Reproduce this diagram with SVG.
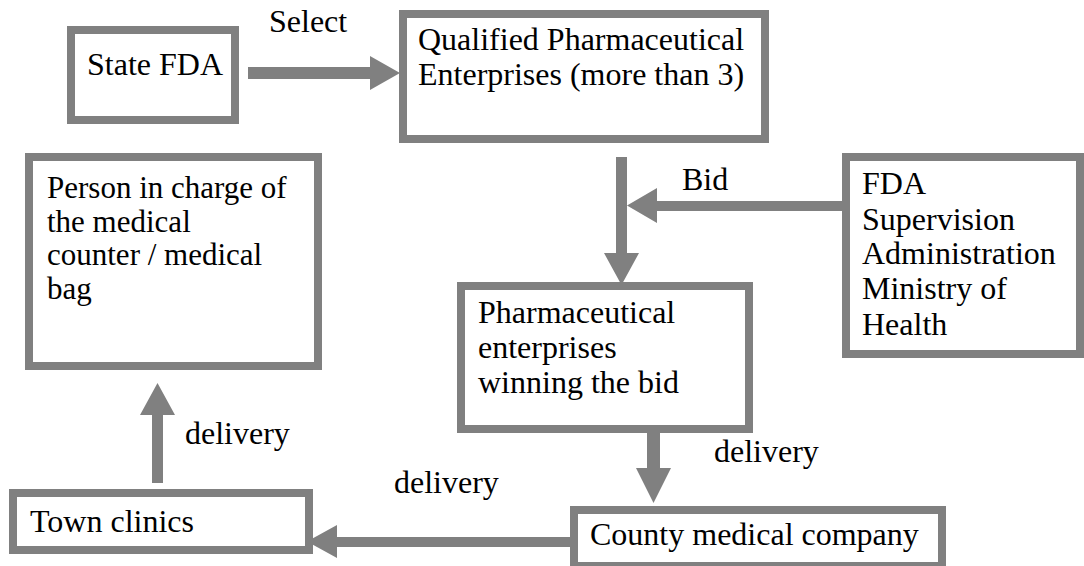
<svg xmlns="http://www.w3.org/2000/svg" width="1084" height="566" viewBox="0 0 1084 566">
<style>
.box{fill:#fff;stroke:#808080;stroke-width:8}
.t{font-family:"Liberation Serif","Times New Roman",serif;font-size:32px;fill:#000}
.s{font-size:31px}
.arr{fill:#808080}
</style>
<rect width="1084" height="566" fill="#fff"/>
<g id="state-fda">
<rect class="box" x="71" y="30" width="164" height="90"/>
<text class="t" x="87" y="75">State FDA</text>
</g>
<g id="qualified">
<rect class="box" x="403" y="14" width="362" height="125"/>
<text class="t" x="418" y="50">Qualified Pharmaceutical</text>
<text class="t" x="418" y="85">Enterprises (more than 3)</text>
</g>
<g id="person">
<rect class="box" x="29" y="157" width="289" height="209"/>
<text class="t s" x="47" y="198">Person in charge of</text>
<text class="t s" x="47" y="231.5">the medical</text>
<text class="t s" x="47" y="265">counter / medical</text>
<text class="t s" x="47" y="298.5">bag</text>
</g>
<g id="fda">
<rect class="box" x="846" y="157" width="234" height="197"/>
<text class="t" x="862" y="194">FDA</text>
<text class="t" x="862" y="230">Supervision</text>
<text class="t" x="862" y="264">Administration</text>
<text class="t" x="862" y="299">Ministry of</text>
<text class="t" x="862" y="335">Health</text>
</g>
<g id="winning">
<rect class="box" x="461" y="286" width="288" height="143"/>
<text class="t" x="478" y="323">Pharmaceutical</text>
<text class="t" x="478" y="358">enterprises</text>
<text class="t" x="478" y="393">winning the bid</text>
</g>
<g id="town">
<rect class="box" x="13" y="493" width="296" height="57"/>
<text class="t" x="30" y="532">Town clinics</text>
</g>
<g id="county">
<rect class="box" x="574" y="510" width="368" height="56"/>
<text class="t" x="590" y="545">County medical company</text>
</g>
<g id="connectors">
<polygon class="arr" points="248,67 370,67 370,56 400,73 370,90 370,79 248,79"/>
<polygon class="arr" points="616,157 627,157 627,253 639,253 621.5,285 604,253 616,253"/>
<polygon class="arr" points="843,201 657,201 657,188 627,205.5 657,223 657,211 843,211"/>
<polygon class="arr" points="647,433 660,433 660,468 671,468 653.5,503 636,468 647,468"/>
<polygon class="arr" points="578,537 337,537 337,525 307,541.5 337,558 337,547 578,547"/>
<polygon class="arr" points="152,483 163,483 163,415 175,415 157.5,383 140,415 152,415"/>
<text class="t" x="269" y="32">Select</text>
<text class="t" x="682" y="190">Bid</text>
<text class="t" x="714" y="462">delivery</text>
<text class="t" x="394" y="493">delivery</text>
<text class="t" x="185" y="444">delivery</text>
</g>
</svg>
